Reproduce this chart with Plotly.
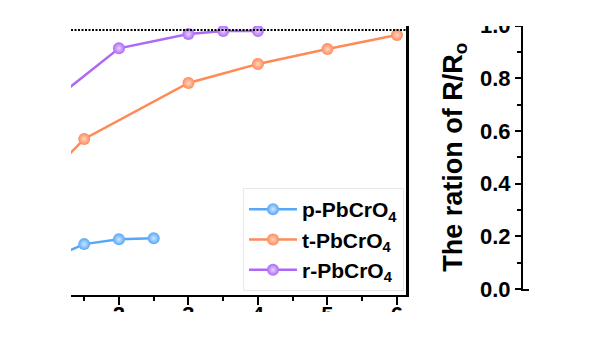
import plotly.graph_objects as go

# ---- data ----
p_x = [1.0, 1.5, 2.0, 2.5]
p_y = [0.135, 0.192, 0.210, 0.214]
t_x = [1.0, 1.5, 3.0, 4.0, 5.0, 6.0]
t_y = [0.454, 0.589, 0.800, 0.872, 0.928, 0.981]
r_x = [1.0, 2.0, 3.0, 3.5, 4.0]
r_y = [0.723, 0.931, 0.985, 0.996, 0.996]
names = ["p-PbCrO<sub>4</sub>", "t-PbCrO<sub>4</sub>", "r-PbCrO<sub>4</sub>"]
colors = ["#55a8f8", "#ff8a58", "#ad68f4"]
highlights = ["#cfe6ff", "#ffd6c4", "#e6d2ff"]
ref_level = 1.0
right_ticks = [0.0, 0.2, 0.4, 0.6, 0.8, 1.0]
right_title = "The ration of R/R<sub>o</sub>"

W, H = 600, 338
FONT = "Liberation Sans, Arial, sans-serif"

def px_x(p):
    return p / W

def px_y(p):
    return 1 - p / H

fig = go.Figure()
for xs, ys, nm, c, hl in zip([p_x, t_x, r_x], [p_y, t_y, r_y], names, colors, highlights):
    fig.add_trace(go.Scatter(
        x=xs, y=ys, name=nm, mode="lines+markers",
        line=dict(color=c, width=2.5),
        marker=dict(color=c, size=12, symbol="circle",
                    gradient=dict(type="radial", color=hl),
                    line=dict(width=0)),
        cliponaxis=True,
    ))

# dummy trace for right panel
fig.add_trace(go.Scatter(x=[], y=[], xaxis="x2", yaxis="y2", showlegend=False))

fig.add_hline(y=ref_level, line=dict(color="black", width=2, dash="2px,1.5px"))

fig.update_layout(
    template="none",
    width=W, height=H, autosize=False,
    margin=dict(l=0, r=0, t=0, b=0, pad=0),
    paper_bgcolor="white", plot_bgcolor="white",
    font=dict(family=FONT, color="black"),
    xaxis=dict(
        domain=[px_x(71), px_x(406)],
        range=[1.31, 6.13],
        tickmode="linear", tick0=0, dtick=1,
        ticks="outside", ticklen=8, tickwidth=2, tickcolor="black",
        showline=True, linewidth=2, linecolor="black",
        showgrid=False, zeroline=False, automargin=False,
        ticklabeloverflow="allow", ticklabelstandoff=-9,
        tickfont=dict(size=22, weight="bold"),
        minor=dict(dtick=0.5, ticks="outside", ticklen=4, tickwidth=2, tickcolor="black", showgrid=False),
        anchor="y",
    ),
    yaxis=dict(
        domain=[px_y(295), px_y(5)],
        range=[0, 290 / 265],
        side="right",
        showline=True, linewidth=2.5, linecolor="black",
        showticklabels=False, ticks="",
        showgrid=False, zeroline=False, automargin=False,
        anchor="x",
    ),
    xaxis2=dict(
        domain=[px_x(523), px_x(529)],
        range=[0, 1],
        showline=True, linewidth=2, linecolor="black",
        showticklabels=False, ticks="", showgrid=False, zeroline=False,
        automargin=False,
        anchor="y2",
    ),
    yaxis2=dict(
        domain=[px_y(289), px_y(25.5)],
        range=[0, 1.0],
        tickvals=right_ticks, tickformat=".1f",
        ticks="outside", ticklen=6, tickwidth=2, tickcolor="black",
        showline=True, linewidth=2, linecolor="black",
        showgrid=False, zeroline=False, automargin=False,
        ticklabeloverflow="allow",
        tickfont=dict(size=22, weight="bold"),
        minor=dict(dtick=0.1, ticks="outside", ticklen=4, tickwidth=2, tickcolor="black", showgrid=False),
        title=dict(text=right_title, font=dict(size=27, weight="bold"), standoff=10),
        anchor="x2",
    ),
    legend=dict(
        x=px_x(243), y=px_y(188), xanchor="left", yanchor="top",
        bgcolor="white", bordercolor="#e8e8e8", borderwidth=1,
        font=dict(size=21, weight="bold"),
        itemwidth=48,
        tracegroupgap=0,
    ),
    showlegend=True,
)

# white covers (the picture is cropped at top and bottom)
fig.add_shape(type="rect", xref="paper", yref="paper", x0=0, x1=1, y0=px_y(26), y1=1,
              fillcolor="white", line=dict(width=0), layer="above")
fig.add_shape(type="rect", xref="paper", yref="paper", x0=0, x1=1, y0=0, y1=px_y(312),
              fillcolor="white", line=dict(width=0), layer="above")

fig.write_html("out.html")
